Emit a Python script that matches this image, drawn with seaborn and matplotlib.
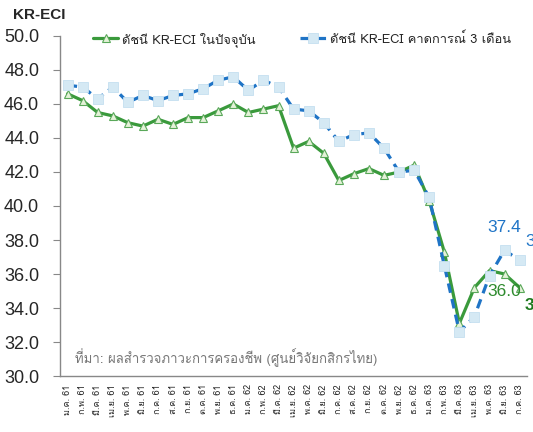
import matplotlib
matplotlib.use("Agg")
import matplotlib.pyplot as plt
import seaborn as sns
from matplotlib import font_manager
from matplotlib.ft2font import FT2Font

# month labels (Thai, Jan 2018 .. Jul 2020)
months = ["ม.ค.", "ก.พ.", "มี.ค.", "เม.ย.", "พ.ค.", "มิ.ย.",
          "ก.ค.", "ส.ค.", "ก.ย.", "ต.ค.", "พ.ย.", "ธ.ค."]
labels = [f"{m} 61" for m in months] + [f"{m} 62" for m in months] + \
         [f"{m} 63" for m in months[:7]]

current = [46.6, 46.2, 45.5, 45.3, 44.9, 44.7, 45.1, 44.8, 45.2, 45.2,
           45.6, 46.0, 45.5, 45.7, 45.9, 43.4, 43.8, 43.1, 41.5, 41.9,
           42.2, 41.8, 42.0, 42.4, 40.3, 37.3, 33.1, 35.2, 36.2, 36.0, 35.2]
expect3m = [47.1, 47.0, 46.3, 47.0, 46.1, 46.5, 46.2, 46.5, 46.6, 46.9,
            47.4, 47.6, 46.8, 47.4, 47.0, 45.7, 45.6, 44.9, 43.8, 44.2,
            44.3, 43.4, 42.0, 42.1, 40.5, 36.5, 32.6, 33.5, 35.9, 37.4, 36.8]

name_cur = "ดัชนี KR-ECI ในปัจจุบัน"
name_exp = "ดัชนี KR-ECI คาดการณ์ 3 เดือน"
source = "ที่มา: ผลสำรวจภาวะการครองชีพ (ศูนย์วิจัยกสิกรไทย)"


def thai_font():
    for f in font_manager.fontManager.ttflist:
        try:
            if FT2Font(f.fname).get_char_index(ord("ก")):
                return f.name
        except Exception:
            pass
    return "DejaVu Sans"


sns.set_style("white")
thai = thai_font()
plt.rcParams["font.family"] = [thai, "Liberation Sans", "DejaVu Sans"]

green = "#3a9a3c"
blue = "#1f74c6"

fig = plt.figure(figsize=(5.33, 4.32), dpi=100)
ax = fig.add_axes([0.1126, 0.1296, 0.8765, 0.7871])

x = list(range(len(labels)))
sns.lineplot(x=x, y=current, ax=ax, color=green, lw=2.3, marker="^",
             markersize=6, markerfacecolor="#e4f2d8", markeredgecolor="#5aa85a",
             markeredgewidth=0.8, label=name_cur, zorder=3)
sns.lineplot(x=x, y=expect3m, ax=ax, color=blue, lw=2.3, ls=(0, (3, 2)),
             marker="s", markersize=7, markerfacecolor="#d5e9f4",
             markeredgecolor="#c4dff0", markeredgewidth=0.6,
             label=name_exp, zorder=4)

ax.set_xlim(-0.5, len(labels) - 0.5)
ax.set_ylim(30, 50)
ax.set_yticks([30 + 2 * i for i in range(11)])
ax.set_yticklabels([f"{30 + 2 * i:.1f}" for i in range(11)],
                   fontsize=13, family=["Liberation Sans"])
ax.set_xticks(x)
ax.set_xticklabels(labels, rotation=90, fontsize=6.5)
ax.set_xticks([i - 0.5 for i in range(len(labels) + 1)], minor=True)
ax.tick_params(axis="x", which="major", length=0, pad=6)
ax.tick_params(axis="x", which="minor", length=5, color="#888888", direction="out")
ax.tick_params(axis="y", length=5, color="#888888", direction="out", left=True, pad=10)
sns.despine(ax=ax)
for s in ["left", "bottom"]:
    ax.spines[s].set_color("#888888")
    ax.spines[s].set_linewidth(1)
ax.set_xlabel("")
ax.set_ylabel("")

fig.text(0.025, 0.965, "KR-ECI", fontsize=11, fontweight="bold",
         family=["Liberation Sans"], va="center")
ax.legend(loc="center left", bbox_to_anchor=(0.045, 0.99), ncol=2, frameon=False,
          fontsize=9.3, handlelength=2.0, columnspacing=3.4, handletextpad=0.3)
ax.text(0.5, 31.1, source, fontsize=9.5, color="#777777", va="center")

# data labels at the end
ax.text(29, 37.4 + 0.9, f"{expect3m[29]:.1f}", color=blue, fontsize=12.5,
        ha="center", va="bottom", family=["Liberation Sans"])
ax.text(29, 36.0 - 0.6, f"{current[29]:.1f}", color="#2e8b2e", fontsize=12.5,
        ha="center", va="top", family=["Liberation Sans"])
ax.text(30.4, 36.8 + 0.7, f"{expect3m[30]:.1f}", color=blue, fontsize=12.5,
        ha="left", va="bottom", family=["Liberation Sans"], clip_on=False)
ax.text(30.35, 35.2 - 0.6, f"{current[30]:.1f}", color="#1e7a1e", fontsize=12.5,
        fontweight="bold", ha="left", va="top", family=["Liberation Sans"],
        clip_on=False)

fig.savefig("out.png", dpi=100)
